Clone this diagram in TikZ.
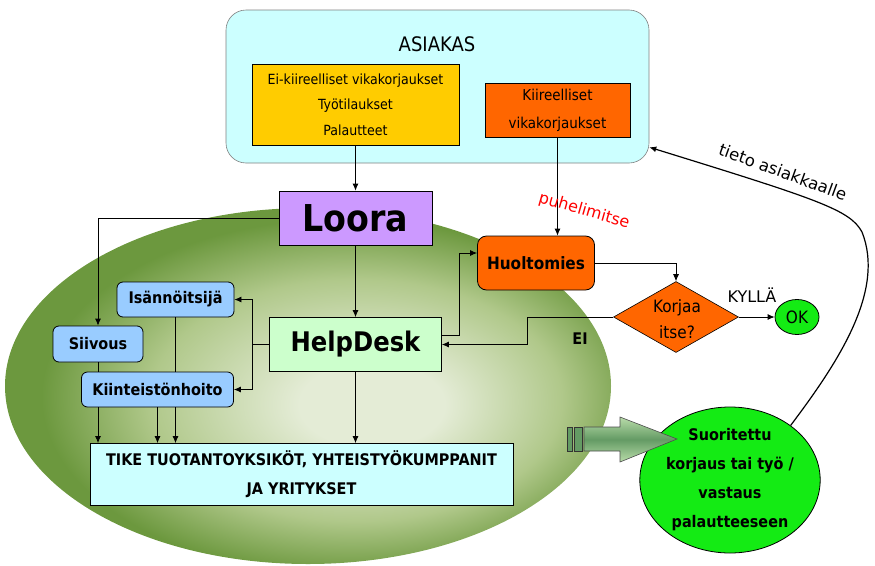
\documentclass[tikz,border=0pt]{standalone}
\usepackage{fontspec}
\setmainfont{DejaVu Sans Condensed}
\newfontfamily\widefont{DejaVu Sans}
\usetikzlibrary{shapes.geometric,arrows.meta,calc}
\definecolor{ellin}{RGB}{228,236,214}
\definecolor{ellmid}{RGB}{176,200,138}
\definecolor{ellout}{RGB}{108,152,62}
\definecolor{cyanbg}{RGB}{204,255,255}
\definecolor{yel}{RGB}{255,204,0}
\definecolor{orng}{RGB}{255,102,0}
\definecolor{purp}{RGB}{204,153,255}
\definecolor{lblue}{RGB}{153,204,255}
\definecolor{lgreen}{RGB}{204,255,204}
\definecolor{brgreen}{RGB}{20,235,20}
\definecolor{arrdark}{RGB}{100,155,100}
\definecolor{arrlight}{RGB}{185,220,170}
\pgfdeclareradialshading{ellshade}{\pgfpoint{6bp}{-3bp}}{color(0bp)=(ellin); color(6bp)=(ellin); color(17bp)=(ellmid); color(25bp)=(ellout); color(50bp)=(ellout)}
\begin{document}
\begin{tikzpicture}[x=1pt,y=-1pt,
  every node/.style={inner sep=0pt, text=black},
  box/.style={draw=black, line width=0.8pt, inner sep=0pt, align=center},
  rbox/.style={box, rounded corners=6pt},
  arr/.style={-{Latex[length=7pt,width=6pt]}, line width=0.8pt},
  ln/.style={line width=0.8pt}]
\useasboundingbox (0,0) rectangle (875,565);
% background ellipse
\shade[shading=ellshade] (308,386) ellipse [x radius=303, y radius=178];
% customer box
\node[draw=gray, line width=0.6pt, fill=cyanbg, rounded corners=20pt, minimum width=423pt, minimum height=153pt] (asiakas) at (437.5,86.5) {};
\node[font=\fontsize{20}{24}\selectfont] (asiakastxt) at (437,44) {ASIAKAS};
\node[box, fill=yel, minimum width=207pt, minimum height=81pt, font=\fontsize{14}{25.5}\selectfont] (ei) at (355.5,104.5) {Ei-kiireelliset vikakorjaukset\\Työtilaukset\\Palautteet};
\node[box, fill=orng, minimum width=145pt, minimum height=54pt, font=\fontsize{15}{28}\selectfont] (kiir) at (557.5,110) {Kiireelliset\\vikakorjaukset};
% main nodes
\node[box, fill=purp, minimum width=153pt, minimum height=54pt, font=\fontsize{37}{40}\selectfont\bfseries] (loora) at (355.5,218) {Loora};
\node[box, fill=lgreen, minimum width=172pt, minimum height=54pt, font=\fontsize{27}{30}\selectfont\bfseries] (helpdesk) at (355.5,344.5) {HelpDesk};
\node[box, fill=orng, rounded corners=9pt, minimum width=117pt, minimum height=54pt, font=\fontsize{17}{20}\selectfont\bfseries] (huolto) at (536,263) {Huoltomies};
\node[draw=black, line width=0.6pt, fill=orng, diamond, minimum width=125pt, minimum height=71pt] (korjaa) at (676,317) {};
\node[align=center, font=\fontsize{17}{26}\selectfont] (korjaatxt) at (677,319) {Korjaa\\itse?};
\node[draw=black, line width=0.8pt, fill=brgreen, ellipse, minimum width=44pt, minimum height=35pt, font=\fontsize{17}{20}\selectfont] (ok) at (797,317) {OK};
\node[rbox, fill=lblue, minimum width=90pt, minimum height=36pt, font=\fontsize{16}{19}\selectfont\bfseries] (siivous) at (98,344) {Siivous};
\node[rbox, fill=lblue, minimum width=117pt, minimum height=35pt, font=\fontsize{16}{19}\selectfont\bfseries] (isann) at (175.5,299.5) {Isännöitsijä};
\node[rbox, fill=lblue, minimum width=152pt, minimum height=35pt, font=\fontsize{16}{19}\selectfont\bfseries] (kiint) at (157.5,389.5) {Kiinteistönhoito};
\node[box, fill=cyanbg, minimum width=423pt, minimum height=62pt, font=\fontsize{16}{29}\selectfont\bfseries] (tike) at (301.5,474.5) {TIKE TUOTANTOYKSIKÖT, YHTEISTYÖKUMPPANIT\\JA YRITYKSET};
\node[draw=black, line width=0.8pt, fill=brgreen, ellipse, minimum width=164pt, minimum height=146pt, align=center, font=\fontsize{16}{29}\selectfont\bfseries] (suor) at (730,480) {Suoritettu\\korjaus tai työ /\\vastaus\\palautteeseen};
% big arrow
\shade[top color=arrlight, bottom color=arrlight, middle color=arrdark, draw=black!70, line width=0.6pt] (584,427) -- (620,427) -- (620,417) -- (677,439) -- (620,462) -- (620,451) -- (584,451) -- cycle;
\draw[fill=arrdark, draw=black!80, line width=0.6pt] (567,427) rectangle (572,451);
\draw[fill=arrdark, draw=black!80, line width=0.6pt] (574.5,427) rectangle (582,451);
% connectors
\draw[arr] (ei) -- (loora);
\draw[arr] (kiir.south) -- (kiir.south |- huolto.north);
\node[text=red, rotate=-16, font=\widefont\fontsize{16}{18}\selectfont] (puh) at (584,211) {puhelimitse};
\draw[arr] (loora.west) -| (siivous.north);
\draw[arr] (loora) -- (helpdesk);
\coordinate (hdl) at (252,344.5);
\draw[ln] (helpdesk.west) -- (hdl);
\draw[arr] (hdl) |- (isann.east);
\draw[arr] (hdl) |- (kiint.east);
\draw[ln] (siivous.south) -- (siivous.south |- kiint.north);
\draw[ln] (isann.south) -- (isann.south |- kiint.north);
\draw[arr] (siivous.south |- kiint.south) -- (siivous.south |- tike.north);
\draw[arr] (kiint.south) -- (kiint.south |- tike.north);
\draw[arr] (isann.south |- kiint.south) -- (isann.south |- tike.north);
\draw[arr] (helpdesk.south) -- (helpdesk.south |- tike.north);
\draw[arr] ([yshift=9.5pt]helpdesk.east) -- ++(17.5,0) |- ([yshift=10pt]huolto.west);
\draw[arr] (huolto.east) -| (korjaa.north);
\draw[arr] (korjaa.east) -- (ok.west);
\node[font=\widefont\fontsize{16}{18}\selectfont] (kylla) at (752,295) {KYLLÄ};
\draw[arr] (korjaa.west) -- ++(-86,0) |- (helpdesk.east);
\node[font=\fontsize{16}{19}\selectfont\bfseries] (eitxt) at (580,339) {EI};
\draw[arr, line width=1.2pt] (suor.42) .. controls (840,360) and (885,290) .. (862,232) .. controls (850,210) and (820,200) .. (asiakas.-16);
\node[rotate=-20, font=\widefont\fontsize{16.5}{19}\selectfont] (tieto) at (783,172) {tieto asiakkaalle};
\end{tikzpicture}
\end{document}
